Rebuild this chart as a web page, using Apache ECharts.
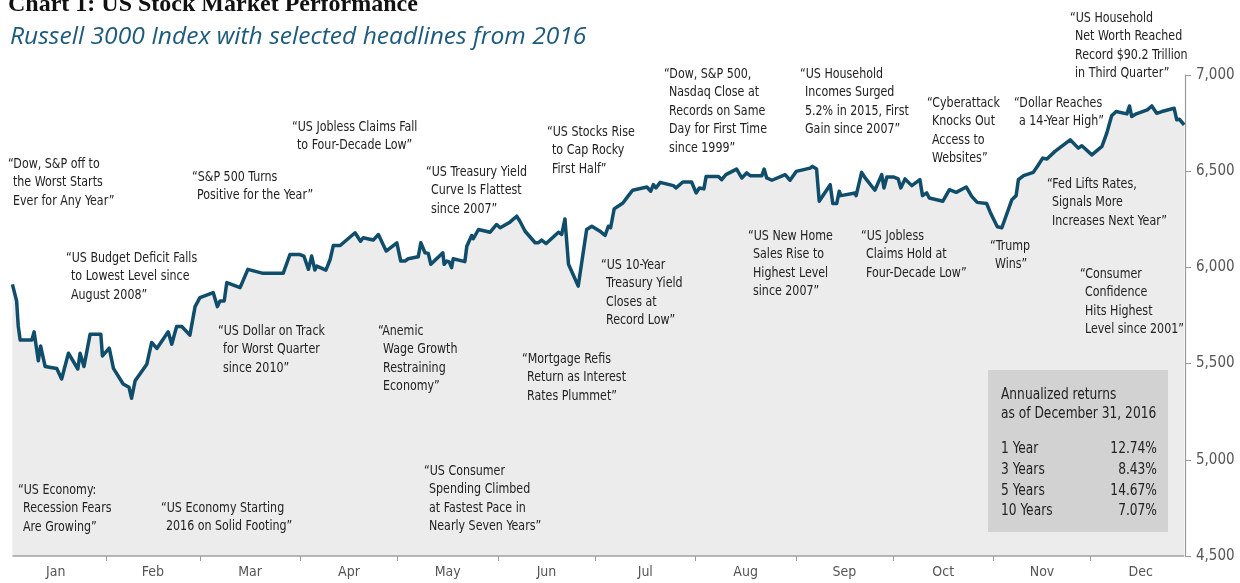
<!DOCTYPE html>
<html>
<head>
<meta charset="utf-8">
<script src="https://cdn.jsdelivr.net/npm/echarts@6/dist/echarts.min.js"></script>
<style>
html,body{margin:0;padding:0;background:#fff;}
#chart{width:1240px;height:583px;}
</style>
</head>
<body>
<div id="chart"></div>
<script>
// ---- data (day of year 2016, Russell 3000 index level) ----
const days = [2.1,3.4,3.9,4.5,8.1,8.8,10.1,10.8,12.2,15.8,17.3,19.4,22.3,23.0,24.2,26.1,29.4,29.9,32.0,33.3,36.3,38.1,38.9,40.0,43.6,45.1,46.7,50.2,51.3,52.8,54.4,56.9,58.5,60.0,64.1,65.4,66.2,67.5,68.3,72.4,74.8,79.5,85.7,87.8,90.9,92.1,93.5,94.5,95.5,96.1,98.9,100.2,101.2,103.3,107.9,109.6,110.4,113.5,115.1,117.5,120.8,122.0,123.3,124.3,127.4,128.2,129.5,130.5,131.3,135.0,135.4,136.2,137.0,137.7,138.2,141.8,142.4,143.9,144.4,146.0,149.6,151.6,152.7,155.7,157.8,158.8,160.4,163.5,164.5,165.5,166.9,170.7,171.7,172.7,173.8,176.8,179.4,181.0,183.5,185.1,186.1,186.8,187.9,190.6,192.3,193.6,198.0,199.2,200.0,200.8,202.1,206.2,207.0,209.1,211.8,213.2,214.2,215.6,216.3,220.1,221.1,222.4,225.7,227.3,228.8,229.9,233.5,234.2,235.0,236.6,240.7,242.2,244.1,248.4,249.1,250.4,251.2,254.6,255.4,256.6,257.4,257.9,262.3,262.6,264.3,265.4,268.4,270.5,271.2,272.1,274.1,275.6,276.4,277.7,279.8,282.3,283.1,284.4,285.2,289.4,291.4,293.5,296.6,298.3,300.0,302.9,304.0,306.2,307.6,310.7,312.0,312.7,314.3,317.3,318.9,320.2,321.5,324.0,328.7,331.2,332.3,335.4,338.5,340.0,341.5,342.9,346.2,347.0,347.7,349.1,352.5,353.9,355.4,357.0,360.8,361.6,362.4,363.9];
const values = [5912,5826,5696,5623,5623,5665,5515,5592,5485,5475,5420,5554,5472,5554,5485,5653,5653,5540,5580,5475,5394,5377,5320,5411,5497,5610,5579,5665,5601,5693,5693,5648,5796,5843,5869,5796,5826,5826,5921,5895,5990,5969,5969,6067,6067,6059,5990,6059,5986,6007,5986,6041,6114,6114,6180,6136,6154,6142,6171,6085,6128,6033,6033,6045,6055,6128,6076,6073,6016,6076,6016,6033,6028,5999,6045,6030,6110,6166,6149,6197,6183,6223,6206,6235,6266,6240,6188,6128,6128,6142,6124,6183,6171,6252,6016,5903,6197,6214,6188,6166,6214,6206,6304,6335,6373,6401,6418,6396,6430,6413,6442,6425,6413,6444,6444,6387,6413,6408,6473,6473,6456,6482,6511,6465,6491,6477,6477,6511,6465,6453,6482,6453,6499,6516,6525,6511,6344,6430,6332,6332,6396,6373,6387,6373,6494,6465,6401,6482,6413,6470,6470,6460,6413,6460,6425,6456,6373,6387,6361,6344,6404,6390,6418,6369,6338,6332,6287,6211,6206,6352,6373,6456,6477,6494,6534,6568,6563,6603,6663,6620,6632,6585,6629,6698,6788,6810,6798,6839,6784,6798,6819,6839,6801,6810,6827,6767,6770,6741];

const monthLabels = ['Jan','Feb','Mar','Apr','May','Jun','Jul','Aug','Sep','Oct','Nov','Dec'];
const monthStarts = [0,31,60,91,121,152,182,213,244,274,305,335,366];
const yTicks = [4500,5000,5500,6000,6500,7000];

const returnLabels = ['1 Year','3 Years','5 Years','10 Years'];
const returnValues = ['12.74%','8.43%','14.67%','7.07%'];

const headlines = [
  ['“Dow, S&P off to','the Worst Starts','Ever for Any Year”'],
  ['“US Budget Deficit Falls','to Lowest Level since','August 2008”'],
  ['“S&P 500 Turns','Positive for the Year”'],
  ['“US Jobless Claims Fall','to Four-Decade Low”'],
  ['“US Treasury Yield','Curve Is Flattest','since 2007”'],
  ['“US Stocks Rise','to Cap Rocky','First Half”'],
  ['“Dow, S&P 500,','Nasdaq Close at','Records on Same','Day for First Time','since 1999”'],
  ['“US Household','Incomes Surged','5.2% in 2015, First','Gain since 2007”'],
  ['“Cyberattack','Knocks Out','Access to','Websites”'],
  ['“Dollar Reaches','a 14-Year High”'],
  ['“US Household','Net Worth Reached','Record $90.2 Trillion','in Third Quarter”'],
  ['“Fed Lifts Rates,','Signals More','Increases Next Year”'],
  ['“Consumer','Confidence','Hits Highest','Level since 2001”'],
  ['“US Jobless','Claims Hold at','Four-Decade Low”'],
  ['“Trump','Wins”'],
  ['“US New Home','Sales Rise to','Highest Level','since 2007”'],
  ['“US 10-Year','Treasury Yield','Closes at','Record Low”'],
  ['“Mortgage Refis','Return as Interest','Rates Plummet”'],
  ['“Anemic','Wage Growth','Restraining','Economy”'],
  ['“US Dollar on Track','for Worst Quarter','since 2010”'],
  ['“US Economy:','Recession Fears','Are Growing”'],
  ['“US Economy Starting','2016 on Solid Footing”'],
  ['“US Consumer','Spending Climbed','at Fastest Pace in','Nearly Seven Years”']
];
// ---- layout (pixel anchors for headline text blocks: left, first-line centre) ----
const headlinePos = [
  [8,164],[66,258],[192,177],[292,127],[426,172],[547,132],[664,74],[800,74],
  [927,103],[1014,103],[1070,18],[1047,184],[1080,274],[861,236],[990,246],
  [748,236],[601,265],[522,359],[378,331],[218,331],[18,490],[161,508],[424,471]
];

const NARROW = "'DejaVu Sans Condensed','Liberation Sans Narrow','Roboto',sans-serif";
const LINE_H = 18.5;
const INDENT = 5;
const SQUEEZE = 0.88;

function txt(x, y, s, font, opts) {
  return {
    type:'text', z:10, x:x, y:y, scaleX:SQUEEZE,
    style:Object.assign({x:0, y:0, text:s, font:font, fill:'#222', textVerticalAlign:'middle'}, opts || {})
  };
}

const graphics = [];
graphics.push({
  type:'text', style:{
    x:8, y:-7, text:'Chart 1: US Stock Market Performance',
    font:"bold 24px 'Liberation Serif','DejaVu Serif',serif", fill:'#111',
    textVerticalAlign:'top'
  }
});
graphics.push({
  type:'text', x:10, y:37, scaleX:1.07, style:{
    x:0, y:0, text:'Russell 3000 Index with selected headlines from 2016',
    font:"italic 23px 'Open Sans','Lato',sans-serif", fill:'#1d5a7c',
    textVerticalAlign:'middle'
  }
});
headlines.forEach((lines, k) => {
  const p = headlinePos[k];
  lines.forEach((ln, i) => {
    graphics.push(txt(p[0] + (i > 0 ? INDENT : 0), p[1] + i * LINE_H, ln, '14px ' + NARROW));
  });
});
// returns box
const BOXFONT = '16px ' + NARROW;
graphics.push({type:'rect', z:5, shape:{x:988,y:370,width:180,height:162}, style:{fill:'#d2d2d2'}});
graphics.push(Object.assign(txt(1001, 395, 'Annualized returns', BOXFONT), {scaleX:0.85}));
graphics.push(Object.assign(txt(1001, 414, 'as of December 31, 2016', BOXFONT), {scaleX:0.85}));
returnLabels.forEach((lab, i) => {
  const y = 449 + i * 20.7;
  graphics.push(Object.assign(txt(1001, y, lab, BOXFONT), {scaleX:0.85}));
  graphics.push(Object.assign(txt(1157, y, returnValues[i], BOXFONT, {textAlign:'right'}), {scaleX:0.85}));
});

const monthMid = monthLabels.map((m, i) => (monthStarts[i] + monthStarts[i+1]) / 2);

const chart = echarts.init(document.getElementById('chart'), null, {renderer:'canvas'});
chart.setOption({
  animation:false,
  backgroundColor:'#ffffff',
  grid:{left:5.6, right:49, top:75, bottom:27},
  xAxis:{
    type:'value', min:0, max:366,
    axisLine:{show:false, onZero:false},
    splitLine:{show:false},
    axisTick:{show:true, customValues: monthStarts.slice(1, 12), length:5, lineStyle:{color:'#999', width:1}},
    axisLabel:{
      customValues: monthMid, margin:9, color:'#555', fontSize:14, fontFamily:NARROW,
      formatter: v => { const i = monthMid.findIndex(m => Math.abs(m - v) < 0.01); return i >= 0 ? monthLabels[i] : ''; }
    }
  },
  yAxis:{
    type:'value', position:'right', offset:-6,
    min:yTicks[0], max:yTicks[yTicks.length-1], interval:500,
    axisLine:{show:true, onZero:false, lineStyle:{color:'#999', width:1.2}},
    axisTick:{show:true, length:6, lineStyle:{color:'#999'}},
    splitLine:{show:false},
    axisLabel:{margin:11, color:'#555', fontSize:15, fontFamily:NARROW,
      formatter: v => v.toLocaleString('en-US')}
  },
  series:[{
    type:'line',
    data: days.map((d, i) => [d, values[i]]),
    showSymbol:false, symbol:'none',
    lineStyle:{color:'#0f4d6b', width:3.5, join:'round'},
    areaStyle:{color:'#ececec', opacity:1, origin:'start'},
    z:3,
    markLine:{
      silent:true, symbol:'none', label:{show:false},
      lineStyle:{color:'#a0a0a0', width:1.5, type:'solid'},
      data:[[{coord:[days[0], yTicks[0]]},{coord:[days[days.length-1], yTicks[0]]}]]
    }
  }],
  graphic: graphics
});
</script>
</body>
</html>
